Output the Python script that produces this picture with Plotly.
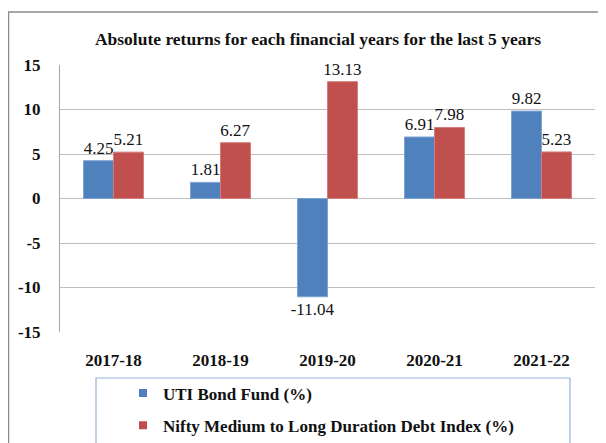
import plotly.graph_objects as go

categories = ["2017-18", "2018-19", "2019-20", "2020-21", "2021-22"]
uti_values = [4.25, 1.81, -11.04, 6.91, 9.82]
nifty_values = [5.21, 6.27, 13.13, 7.98, 5.23]
series_names = ["UTI Bond Fund (%)", "Nifty Medium to Long Duration Debt Index (%)"]
y_ticks = [-15, -10, -5, 0, 5, 10, 15]
y_tick_labels = ["-15", "-10", "-5", "0", "5", "10", "15"]
title_text = "Absolute returns for each financial years for the last 5 years"

FONT = "Liberation Serif"
# the page body has an 8px margin; the figure is sized to fit the rest of the window
W, H = 598, 435
ML, MR, MT, MB = 52, 11, 57, 111
PW, PH = W - ML - MR, H - MT - MB


def px_x(x):  # figure pixel -> paper x
    return (x - ML) / PW


def px_y(y):  # figure pixel (from top) -> paper y
    return (H - MB - y) / PH


fig = go.Figure()
colors = ["#4F81BD", "#C0504D"]
edges = ["#7EA3D3", "#D27D7B"]
for i, (name, vals) in enumerate(zip(series_names, [uti_values, nifty_values])):
    fig.add_trace(go.Bar(
        x=categories, y=vals, name=name, showlegend=False,
        marker=dict(color=colors[i], line=dict(color=edges[i], width=1)),
        text=[f"{v:.2f}" for v in vals], textposition="outside",
        constraintext="none",
        textfont=dict(family=FONT, size=17, color="#111111"),
        cliponaxis=False,
    ))
for i, name in enumerate(series_names):
    fig.add_trace(go.Scatter(
        x=[None], y=[None], mode="markers", name=name, legendgroup=f"g{i}",
        marker=dict(symbol="square", size=8, color=colors[i]),
    ))

fig.update_layout(
    width=W, height=H,
    margin=dict(l=ML, r=MR, t=MT, b=MB, autoexpand=False),
    paper_bgcolor="white", plot_bgcolor="white",
    barmode="group", bargap=0.44, bargroupgap=0,
    title=dict(text="<b>" + title_text + "</b>", x=(310) / W, xanchor="center",
               y=1 - 31 / H, yanchor="middle",
               font=dict(family=FONT, size=17.5, color="#111111")),
    font=dict(family=FONT, color="#111111"),
    xaxis=dict(showgrid=False, showline=False, ticks="", automargin=False,
               tickfont=dict(family=FONT, size=17, color="#111111", weight="bold"),
               ticklabelstandoff=16),
    yaxis=dict(range=[-15, 15], tickvals=y_ticks, ticktext=y_tick_labels,
               showgrid=True, gridcolor="#BFBFBF", automargin=False,
               gridwidth=1, zeroline=True, zerolinecolor="#BFBFBF", zerolinewidth=1,
               showline=True, linecolor="#A6A6A6", linewidth=1, ticks="",
               tickfont=dict(family=FONT, size=17, color="#111111", weight="bold"),
               ticklabelstandoff=15),
    legend=dict(orientation="v", x=px_x(115), xanchor="left", y=px_y(367.5), yanchor="top",
                font=dict(family=FONT, size=17, color="#111111", weight="bold"),
                bgcolor="rgba(0,0,0,0)", tracegroupgap=7, traceorder="grouped",
                itemwidth=30),
    showlegend=True,
    shapes=[
        dict(type="rect", xref="paper", yref="paper",
             x0=px_x(88), x1=px_x(562), y0=px_y(470), y1=px_y(370),
             line=dict(color="#95B3D7", width=1.2), fillcolor="rgba(0,0,0,0)", layer="below"),
        dict(type="rect", xref="paper", yref="paper",
             x0=px_x(0.5), x1=px_x(700), y0=px_y(520), y1=px_y(4),
             line=dict(color="#8C8C8C", width=1.5), fillcolor="rgba(0,0,0,0)", layer="below"),
    ],
)

fig.write_html("out.html")
